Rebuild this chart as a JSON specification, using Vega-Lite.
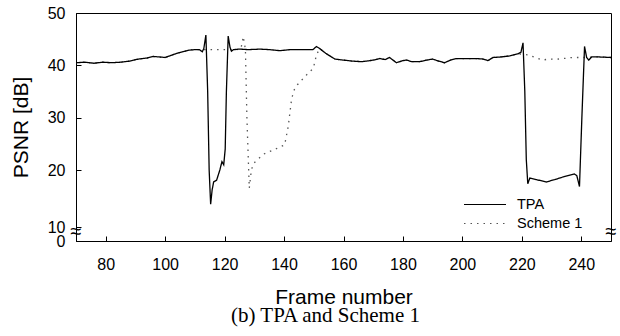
{
  "$schema": "https://vega.github.io/schema/vega-lite/v6.json",
  "width": 535,
  "height": 228,
  "autosize": {"type": "none"},
  "padding": {"left": 76, "top": 13, "right": 9, "bottom": 95},
  "title": {"text": "(b) TPA and Scheme 1", "orient": "bottom", "font": "Liberation Serif", "fontSize": 21, "fontWeight": "normal", "color": "#000000", "anchor": "middle", "dx": -18, "offset": -2},
  "config": {
    "view": {"stroke": "#000000", "strokeWidth": 1},
    "axis": {"domainColor": "#000000", "tickColor": "#000000", "labelColor": "#000000", "titleColor": "#000000", "labelFont": "Liberation Sans", "titleFont": "Liberation Sans", "labelFontSize": 16, "titleFontSize": 21, "titleFontWeight": "normal", "grid": false, "tickSize": -5, "tickWidth": 1, "domainWidth": 1, "labelOverlap": false},
    "legend": {"labelFont": "Liberation Sans", "labelFontSize": 14.5, "labelColor": "#000000"}
  },
  "datasets": {"psnr": [
    {"s": "TPA", "f": 70, "v": 40.5}, {"s": "TPA", "f": 73, "v": 40.6}, {"s": "TPA", "f": 76, "v": 40.4}, {"s": "TPA", "f": 79, "v": 40.6}, {"s": "TPA", "f": 82, "v": 40.5}, {"s": "TPA", "f": 85, "v": 40.6}, {"s": "TPA", "f": 88, "v": 40.8}, {"s": "TPA", "f": 91, "v": 41.2}, {"s": "TPA", "f": 94, "v": 41.4}, {"s": "TPA", "f": 96, "v": 41.7}, {"s": "TPA", "f": 98, "v": 41.6}, {"s": "TPA", "f": 100, "v": 41.5}, {"s": "TPA", "f": 102, "v": 41.9}, {"s": "TPA", "f": 104, "v": 42.3}, {"s": "TPA", "f": 106, "v": 42.6}, {"s": "TPA", "f": 108, "v": 42.9}, {"s": "TPA", "f": 110, "v": 43.0}, {"s": "TPA", "f": 111.5, "v": 43.0},
    {"s": "TPA", "f": 112.5, "v": 42.6}, {"s": "TPA", "f": 113, "v": 43.2}, {"s": "TPA", "f": 113.7, "v": 45.8}, {"s": "TPA", "f": 114.3, "v": 35}, {"s": "TPA", "f": 114.8, "v": 20}, {"s": "TPA", "f": 115.3, "v": 14.0}, {"s": "TPA", "f": 115.8, "v": 16.5}, {"s": "TPA", "f": 116.3, "v": 17.9}, {"s": "TPA", "f": 117.3, "v": 18.2}, {"s": "TPA", "f": 118.4, "v": 20.0}, {"s": "TPA", "f": 119.1, "v": 21.6}, {"s": "TPA", "f": 119.7, "v": 21.0}, {"s": "TPA", "f": 120.2, "v": 24}, {"s": "TPA", "f": 120.6, "v": 35}, {"s": "TPA", "f": 121.2, "v": 45.6}, {"s": "TPA", "f": 121.8, "v": 43.5}, {"s": "TPA", "f": 122.3, "v": 42.7}, {"s": "TPA", "f": 123, "v": 43.0},
    {"s": "TPA", "f": 125, "v": 43.1}, {"s": "TPA", "f": 128, "v": 43.0}, {"s": "TPA", "f": 131.8, "v": 43.1}, {"s": "TPA", "f": 135, "v": 43.0}, {"s": "TPA", "f": 138.6, "v": 42.8}, {"s": "TPA", "f": 142, "v": 43.0}, {"s": "TPA", "f": 146, "v": 43.0}, {"s": "TPA", "f": 149.7, "v": 43.0}, {"s": "TPA", "f": 150.9, "v": 43.6}, {"s": "TPA", "f": 152, "v": 43.2}, {"s": "TPA", "f": 154, "v": 42.3}, {"s": "TPA", "f": 157.1, "v": 41.2}, {"s": "TPA", "f": 160, "v": 41.0}, {"s": "TPA", "f": 163.1, "v": 40.8}, {"s": "TPA", "f": 166, "v": 40.7}, {"s": "TPA", "f": 167.7, "v": 40.8}, {"s": "TPA", "f": 170, "v": 41.0}, {"s": "TPA", "f": 172.2, "v": 41.3}, {"s": "TPA", "f": 174, "v": 41.1}, {"s": "TPA", "f": 175.5, "v": 41.5}, {"s": "TPA", "f": 177.8, "v": 40.5}, {"s": "TPA", "f": 180, "v": 40.9}, {"s": "TPA", "f": 181.2, "v": 41.0}, {"s": "TPA", "f": 183, "v": 40.7}, {"s": "TPA", "f": 185.6, "v": 40.7}, {"s": "TPA", "f": 188, "v": 41.0}, {"s": "TPA", "f": 190, "v": 41.2}, {"s": "TPA", "f": 192, "v": 40.8}, {"s": "TPA", "f": 194, "v": 40.5}, {"s": "TPA", "f": 196, "v": 41.0}, {"s": "TPA", "f": 198, "v": 41.3}, {"s": "TPA", "f": 202, "v": 41.3}, {"s": "TPA", "f": 204.7, "v": 41.3}, {"s": "TPA", "f": 207, "v": 41.2}, {"s": "TPA", "f": 208.6, "v": 40.9}, {"s": "TPA", "f": 210.3, "v": 41.5}, {"s": "TPA", "f": 213, "v": 41.6}, {"s": "TPA", "f": 215.9, "v": 41.8}, {"s": "TPA", "f": 218.7, "v": 42.2},
    {"s": "TPA", "f": 219.7, "v": 42.5}, {"s": "TPA", "f": 220.4, "v": 44.3}, {"s": "TPA", "f": 221.0, "v": 35}, {"s": "TPA", "f": 221.5, "v": 22}, {"s": "TPA", "f": 222.0, "v": 17.6}, {"s": "TPA", "f": 222.7, "v": 18.6}, {"s": "TPA", "f": 223.5, "v": 18.5}, {"s": "TPA", "f": 225, "v": 18.3}, {"s": "TPA", "f": 228.2, "v": 17.9}, {"s": "TPA", "f": 231, "v": 18.3}, {"s": "TPA", "f": 234, "v": 18.8}, {"s": "TPA", "f": 237.7, "v": 19.3}, {"s": "TPA", "f": 238.5, "v": 19.0}, {"s": "TPA", "f": 239.4, "v": 17.1}, {"s": "TPA", "f": 240.2, "v": 30}, {"s": "TPA", "f": 241.1, "v": 43.6}, {"s": "TPA", "f": 241.8, "v": 41.5}, {"s": "TPA", "f": 242.5, "v": 41.0}, {"s": "TPA", "f": 243.5, "v": 41.6}, {"s": "TPA", "f": 246, "v": 41.6}, {"s": "TPA", "f": 250, "v": 41.5},

    {"s": "Scheme 1", "f": 70, "v": 40.5}, {"s": "Scheme 1", "f": 73, "v": 40.6}, {"s": "Scheme 1", "f": 76, "v": 40.4}, {"s": "Scheme 1", "f": 79, "v": 40.6}, {"s": "Scheme 1", "f": 82, "v": 40.5}, {"s": "Scheme 1", "f": 85, "v": 40.6}, {"s": "Scheme 1", "f": 88, "v": 40.8}, {"s": "Scheme 1", "f": 91, "v": 41.2}, {"s": "Scheme 1", "f": 94, "v": 41.4}, {"s": "Scheme 1", "f": 96, "v": 41.7}, {"s": "Scheme 1", "f": 98, "v": 41.6}, {"s": "Scheme 1", "f": 100, "v": 41.5}, {"s": "Scheme 1", "f": 102, "v": 41.9}, {"s": "Scheme 1", "f": 104, "v": 42.3}, {"s": "Scheme 1", "f": 106, "v": 42.6}, {"s": "Scheme 1", "f": 108, "v": 42.9}, {"s": "Scheme 1", "f": 110, "v": 43.0}, {"s": "Scheme 1", "f": 111.5, "v": 43.0},
    {"s": "Scheme 1", "f": 113, "v": 43.0}, {"s": "Scheme 1", "f": 116, "v": 43.0}, {"s": "Scheme 1", "f": 119, "v": 43.0}, {"s": "Scheme 1", "f": 122, "v": 43.0}, {"s": "Scheme 1", "f": 124, "v": 43.0}, {"s": "Scheme 1", "f": 125.5, "v": 43.2}, {"s": "Scheme 1", "f": 126.3, "v": 45.5}, {"s": "Scheme 1", "f": 127.0, "v": 43.0}, {"s": "Scheme 1", "f": 127.5, "v": 30}, {"s": "Scheme 1", "f": 128.3, "v": 16.8}, {"s": "Scheme 1", "f": 129, "v": 20.0}, {"s": "Scheme 1", "f": 129.8, "v": 21.3}, {"s": "Scheme 1", "f": 133, "v": 23.0}, {"s": "Scheme 1", "f": 136.3, "v": 23.8}, {"s": "Scheme 1", "f": 140.2, "v": 24.8}, {"s": "Scheme 1", "f": 141.4, "v": 28.3}, {"s": "Scheme 1", "f": 142.5, "v": 33.4}, {"s": "Scheme 1", "f": 143.3, "v": 35.2}, {"s": "Scheme 1", "f": 144.5, "v": 36.3}, {"s": "Scheme 1", "f": 148.1, "v": 38.5}, {"s": "Scheme 1", "f": 149.8, "v": 39.4}, {"s": "Scheme 1", "f": 150.3, "v": 40.5}, {"s": "Scheme 1", "f": 150.9, "v": 42.0}, {"s": "Scheme 1", "f": 152, "v": 43.2},
    {"s": "Scheme 1", "f": 154, "v": 42.3}, {"s": "Scheme 1", "f": 157.1, "v": 41.2}, {"s": "Scheme 1", "f": 160, "v": 41.0}, {"s": "Scheme 1", "f": 163.1, "v": 40.8}, {"s": "Scheme 1", "f": 166, "v": 40.7}, {"s": "Scheme 1", "f": 167.7, "v": 40.8}, {"s": "Scheme 1", "f": 170, "v": 41.0}, {"s": "Scheme 1", "f": 172.2, "v": 41.3}, {"s": "Scheme 1", "f": 174, "v": 41.1}, {"s": "Scheme 1", "f": 175.5, "v": 41.5}, {"s": "Scheme 1", "f": 177.8, "v": 40.5}, {"s": "Scheme 1", "f": 180, "v": 40.9}, {"s": "Scheme 1", "f": 181.2, "v": 41.0}, {"s": "Scheme 1", "f": 183, "v": 40.7}, {"s": "Scheme 1", "f": 185.6, "v": 40.7}, {"s": "Scheme 1", "f": 188, "v": 41.0}, {"s": "Scheme 1", "f": 190, "v": 41.2}, {"s": "Scheme 1", "f": 192, "v": 40.8}, {"s": "Scheme 1", "f": 194, "v": 40.5}, {"s": "Scheme 1", "f": 196, "v": 41.0}, {"s": "Scheme 1", "f": 198, "v": 41.3}, {"s": "Scheme 1", "f": 202, "v": 41.3}, {"s": "Scheme 1", "f": 204.7, "v": 41.3}, {"s": "Scheme 1", "f": 207, "v": 41.2}, {"s": "Scheme 1", "f": 208.6, "v": 40.9}, {"s": "Scheme 1", "f": 210.3, "v": 41.5}, {"s": "Scheme 1", "f": 213, "v": 41.6}, {"s": "Scheme 1", "f": 215.9, "v": 41.8}, {"s": "Scheme 1", "f": 218.7, "v": 42.2},
    {"s": "Scheme 1", "f": 222, "v": 42.0}, {"s": "Scheme 1", "f": 224, "v": 41.6}, {"s": "Scheme 1", "f": 227, "v": 41.0}, {"s": "Scheme 1", "f": 229, "v": 41.2}, {"s": "Scheme 1", "f": 231.6, "v": 41.15}, {"s": "Scheme 1", "f": 234, "v": 41.3}, {"s": "Scheme 1", "f": 237, "v": 41.5}, {"s": "Scheme 1", "f": 239.4, "v": 41.5}, {"s": "Scheme 1", "f": 242.5, "v": 41.5}, {"s": "Scheme 1", "f": 243.5, "v": 41.6}, {"s": "Scheme 1", "f": 246, "v": 41.6}, {"s": "Scheme 1", "f": 250, "v": 41.5}
  ],
  "brk": [{"f": 70, "v": 6.5, "t": "≈"}, {"f": 250, "v": 6.5, "t": "≈"}]},
  "layer": [
    {"data": {"name": "psnr"}, "transform": [{"filter": "datum.s == 'Scheme 1'"}], "mark": {"type": "line", "strokeWidth": 1.3},
     "encoding": {
       "x": {"field": "f", "type": "quantitative", "scale": {"domain": [70, 250], "nice": false, "zero": false},
             "axis": {"values": [80, 100, 120, 140, 160, 180, 200, 220, 240], "title": "Frame number", "labelPadding": 20, "titlePadding": 14}},
       "y": {"field": "v", "type": "quantitative", "scale": {"domain": [0, 10, 20, 50], "range": [228, 214, 157, 0], "nice": false, "zero": false},
             "axis": {"values": [0, 10, 20, 30, 40, 50], "title": "PSNR [dB]", "labelPadding": 16, "titlePadding": 16}},
       "color": {"field": "s", "type": "nominal", "scale": {"domain": ["TPA", "Scheme 1"], "range": ["#000000", "#555555"]},
                 "legend": {"title": null, "orient": "none", "legendX": 387, "legendY": 182, "symbolType": "stroke", "symbolSize": 1764, "symbolStrokeWidth": 1.2, "labelOffset": 10, "padding": 0, "rowPadding": 0, "clipHeight": 19}},
       "strokeDash": {"field": "s", "type": "nominal", "scale": {"domain": ["TPA", "Scheme 1"], "range": [[1, 0], [1.5, 5]]},
                 "legend": {"title": null, "orient": "none", "legendX": 387, "legendY": 182, "symbolType": "stroke", "symbolSize": 1764, "symbolStrokeWidth": 1.2, "labelOffset": 10, "padding": 0, "rowPadding": 0, "clipHeight": 19}}
     }},
    {"data": {"name": "psnr"}, "transform": [{"filter": "datum.s == 'TPA'"}], "mark": {"type": "line", "strokeWidth": 1.3},
     "encoding": {
       "x": {"field": "f", "type": "quantitative"},
       "y": {"field": "v", "type": "quantitative"},
       "color": {"field": "s", "type": "nominal"},
       "strokeDash": {"field": "s", "type": "nominal"}
     }},
    {"data": {"name": "brk"}, "mark": {"type": "text", "fontSize": 20, "align": "center", "baseline": "middle", "color": "#000000"},
     "encoding": {
       "x": {"field": "f", "type": "quantitative"},
       "y": {"field": "v", "type": "quantitative"},
       "text": {"field": "t"}
     }}
  ]
}
